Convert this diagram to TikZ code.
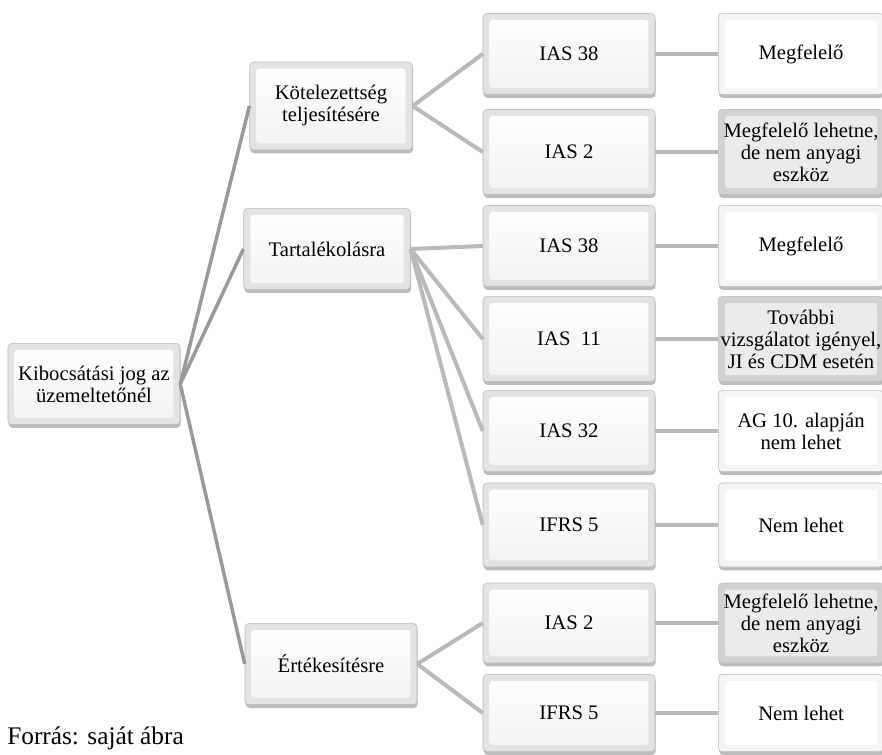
\documentclass[tikz,border=0pt]{standalone}
\usepackage{fontspec}
\setmainfont{Liberation Serif}
\usetikzlibrary{shadows}

\begin{document}
\begin{tikzpicture}[x=0.75pt, y=-0.75pt]
        \tikzstyle{box}=[draw=gray!55, rectangle, rounded corners=3pt, fill=gray!22, minimum width=129pt, minimum height=61pt, align=center, font=\fontsize{15.5}{16.5}\selectfont, inner sep=1pt,
            drop shadow={shadow xshift=0.5pt, shadow yshift=-2.5pt, opacity=0.7, fill=gray!75},
            path picture={\shade[top color=white, bottom color=gray!10, rounded corners=2pt] ([shift={(5pt,-5pt)}]path picture bounding box.north west) rectangle ([shift={(-5pt,5pt)}]path picture bounding box.south east);}]
        \tikzstyle{plain}=[box, fill=gray!8, path picture={\fill[white, rounded corners=2pt] ([shift={(5pt,-5pt)}]path picture bounding box.north west) rectangle ([shift={(-5pt,5pt)}]path picture bounding box.south east);}]
        \tikzstyle{shaded}=[box, fill=gray!35, path picture={\fill[gray!16, rounded corners=2pt] ([shift={(5pt,-5pt)}]path picture bounding box.north west) rectangle ([shift={(-5pt,5pt)}]path picture bounding box.south east);}]
        \tikzstyle{link}=[draw=gray!55, line width=3pt]

        \clip (0,0) rectangle (882,755);

        % gyoker es elso szint
        \node[box] (root) at (94,384) {Kibocsátási jog az\\üzemeltetőnél};
        \node[box, minimum width=122pt, minimum height=66pt] (kot) at (331,106) {Kötelezettség\\teljesítésére};
        \node[box, minimum width=125pt] (tart) at (327,249) {Tartalékolásra};
        \node[box] (ert) at (331,664) {Értékesítésre};

        % standardok
        \node[box] (kias38) at (569,54) {IAS 38};
        \node[box, minimum height=64pt] (kias2) at (569,152) {IAS 2};
        \node[box] (tias38) at (569,246) {IAS 38};
        \node[box, minimum height=64pt] (tias11) at (569,339) {IAS \ 11};
        \node[box] (tias32) at (569,431) {IAS 32};
        \node[box, minimum height=63pt] (tifrs5) at (569,525) {IFRS 5};
        \node[box, minimum height=60pt] (eias2) at (569,623) {IAS 2};
        \node[box, minimum height=58pt] (eifrs5) at (569,713) {IFRS 5};

        % eredmenyek
        \node[plain, minimum width=124pt] (r1) at (801,54) {Megfelelő};
        \node[shaded, minimum width=124pt, minimum height=64pt] (r2) at (801,152) {Megfelelő lehetne,\\de nem anyagi\\eszköz};
        \node[plain, minimum width=124pt] (r3) at (801,246) {Megfelelő};
        \node[shaded, minimum width=124pt, minimum height=64pt] (r4) at (801,339) {További\\vizsgálatot igényel,\\JI és CDM esetén};
        \node[plain, minimum width=124pt] (r5) at (801,431) {AG 10. alapján\\nem lehet};
        \node[plain, minimum width=124pt, minimum height=63pt] (r6) at (801,525) {Nem lehet};
        \node[shaded, minimum width=124pt, minimum height=60pt] (r7) at (801,623) {Megfelelő lehetne,\\de nem anyagi\\eszköz};
        \node[plain, minimum width=124pt, minimum height=58pt] (r8) at (801,713) {Nem lehet};

        \node[anchor=west, font=\fontsize{19}{21}\selectfont, inner sep=0pt] (src) at (7,738) {Forrás: saját ábra};

        \draw[link, draw=gray!80, line width=2.6pt] (root.east) -- (kot.west);
        \draw[link, draw=gray!80, line width=2.6pt] (root.east) -- (tart.west);
        \draw[link, draw=gray!80, line width=2.6pt] (root.east) -- (ert.west);

        \draw[link] (kot.east) -- (kias38.west);
        \draw[link] (kot.east) -- (kias2.west);
        \foreach \n in {tias38, tias11, tias32, tifrs5}
            \draw[link] (tart.east) -- (\n.west);
        \draw[link] (ert.east) -- (eias2.west);
        \draw[link] (ert.east) -- (eifrs5.west);

        \draw[link] (kias38) -- (r1);
        \draw[link] (kias2) -- (r2);
        \draw[link] (tias38) -- (r3);
        \draw[link] (tias11) -- (r4);
        \draw[link] (tias32) -- (r5);
        \draw[link] (tifrs5) -- (r6);
        \draw[link] (eias2) -- (r7);
        \draw[link] (eifrs5) -- (r8);
    \end{tikzpicture}
\end{document}
